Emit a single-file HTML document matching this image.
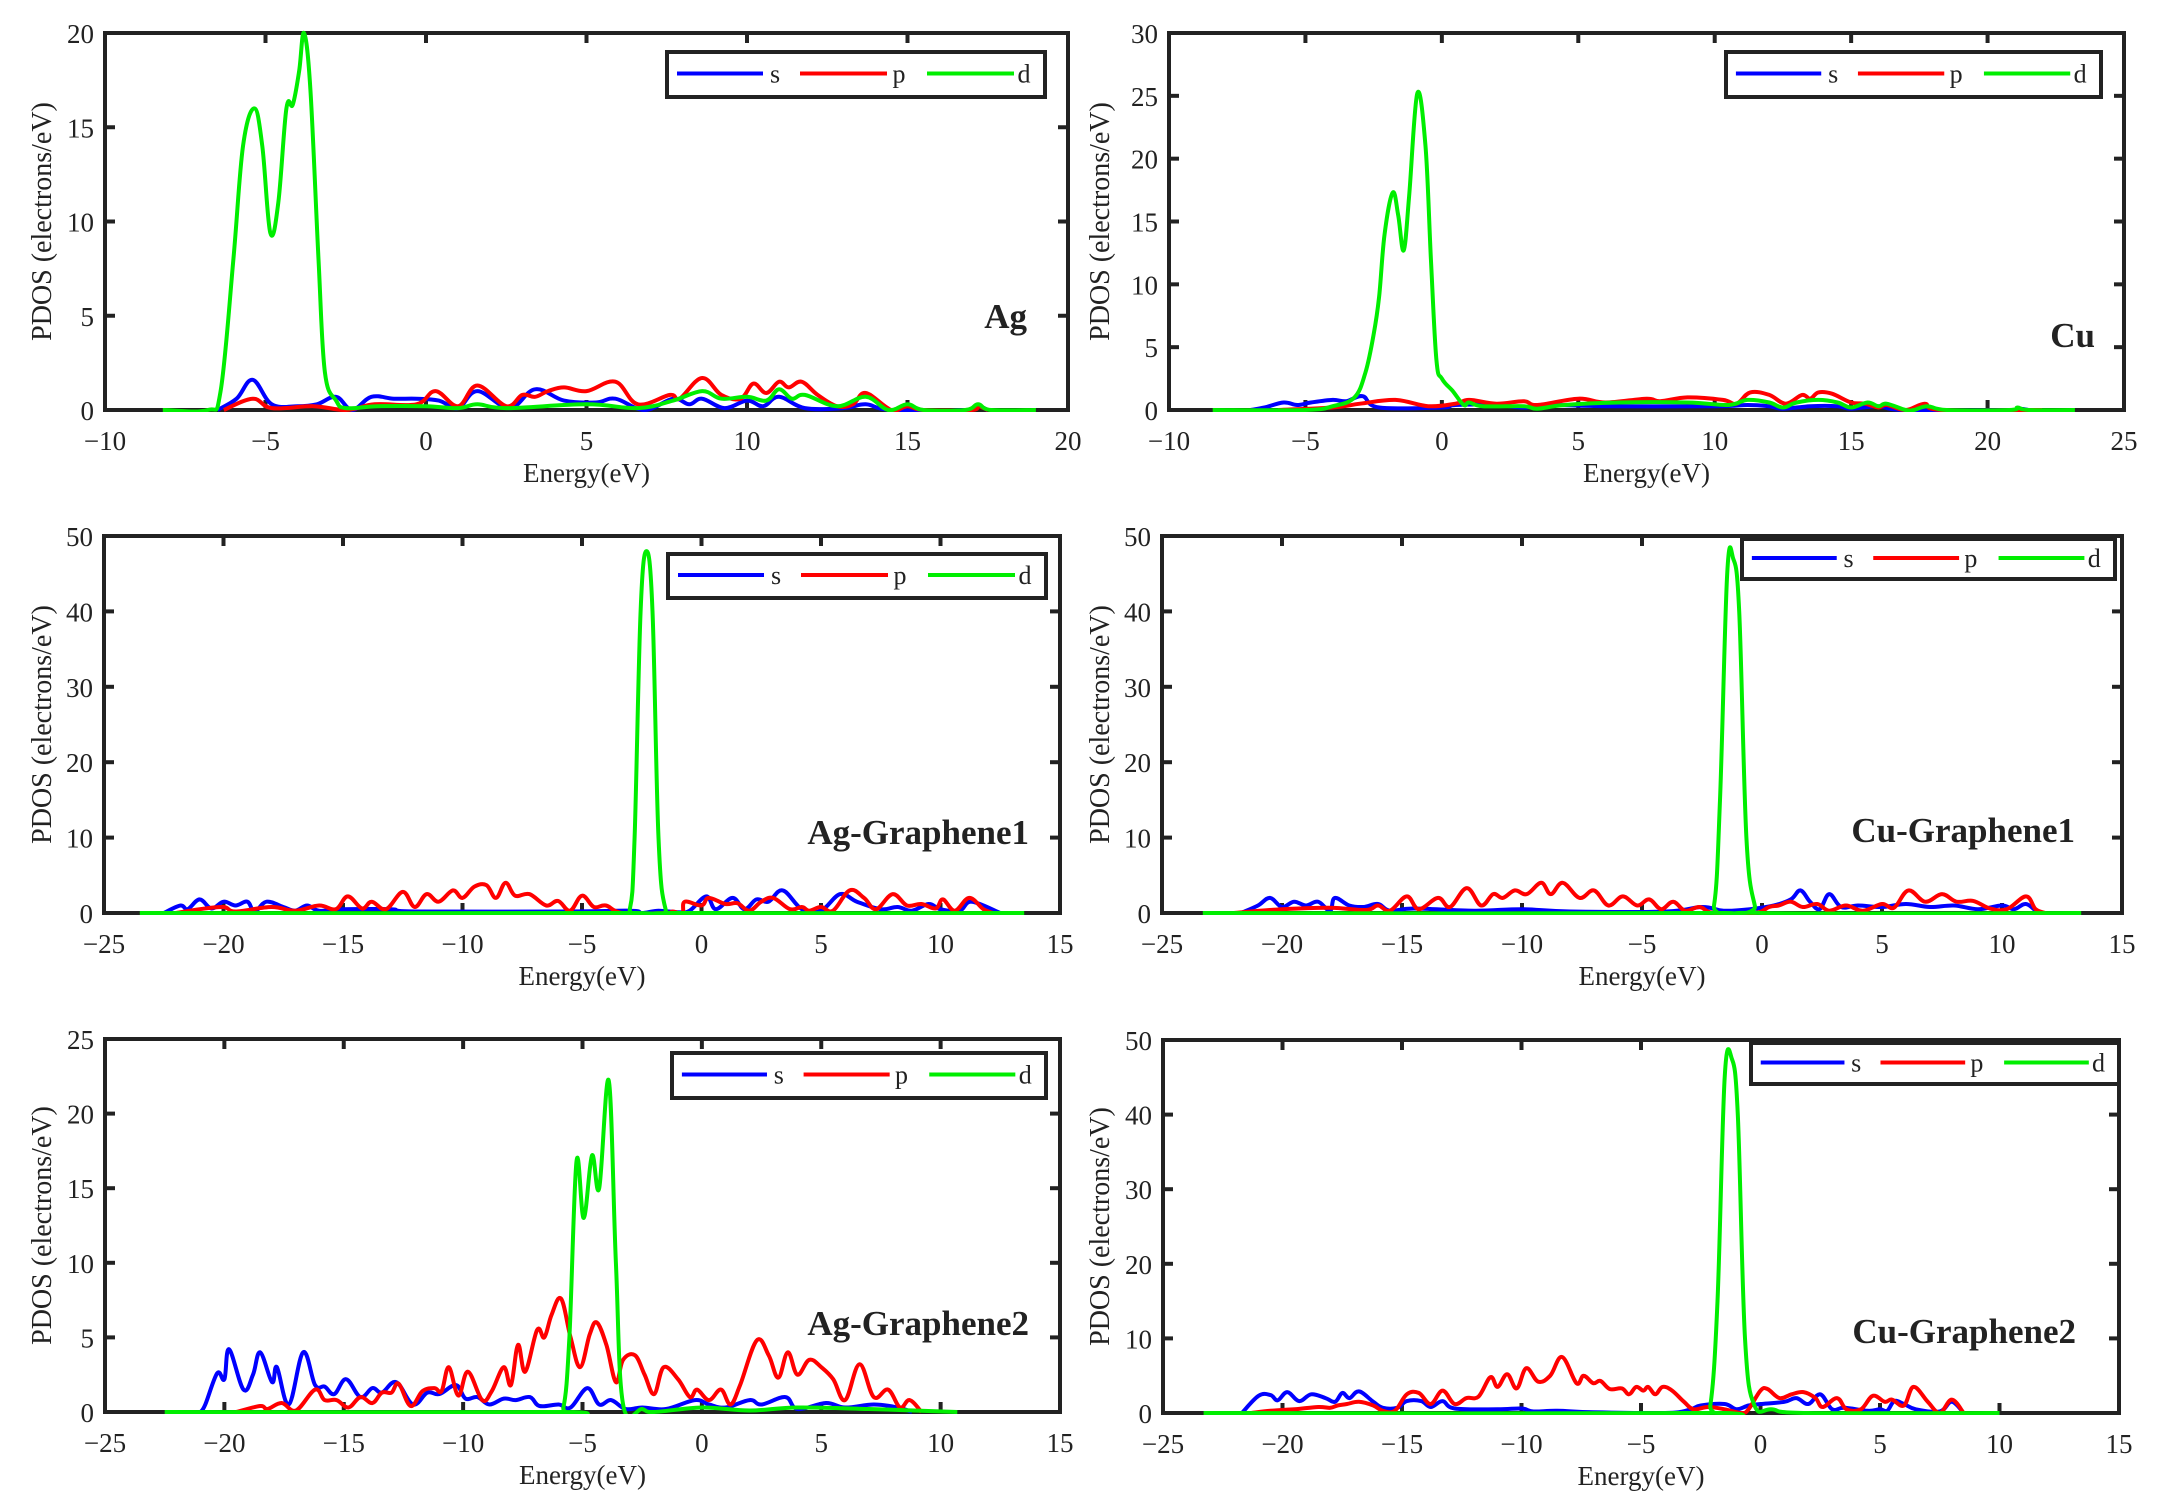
<!DOCTYPE html>
<html><head><meta charset="utf-8"><style>
html,body{margin:0;padding:0;background:#fff;}
svg{display:block;}
text{font-family:"Liberation Serif",serif;fill:#222;}
</style></head><body>
<svg id="s" width="2158" height="1511" xmlns="http://www.w3.org/2000/svg"></svg>
<script>
const P=[
{x0:105,x1:1068,y0:33,y1:410,xmin:-10,xmax:20,xs:5,ymax:20,ys:5,lab:"Ag",lx:1027,ly:328,leg:[667,52,378,45],
s:[[-6.5,0],[-5.9,0.6],[-5.4,1.6],[-4.8,0.3],[-4,0.2],[-3.4,0.3],[-2.8,0.7],[-2.3,0],[-1.7,0.7],[-1,0.6],[-0.3,0.6],[0.4,0.5],[1,0.1],[1.6,1],[2.6,0.1],[3.4,1.1],[4.3,0.5],[5.3,0.4],[5.9,0.6],[6.8,0],[7.7,0.6],[8.2,0.3],[8.6,0.6],[9.3,0.1],[10,0.5],[10.5,0.2],[11,0.7],[11.8,0.1],[13,0.1],[13.7,0.3],[14.5,0],[16.8,0],[17.2,0.2],[17.5,0]],
p:[[-6.3,0],[-5.4,0.6],[-4.8,0.1],[-3.5,0.2],[-2.5,0],[-1.6,0.3],[-0.3,0.3],[0.3,1],[1,0.2],[1.6,1.3],[2.5,0.2],[3,0.8],[3.4,0.7],[3.8,1],[4.3,1.2],[5,1],[5.9,1.5],[6.6,0.3],[7.6,0.8],[7.9,0.6],[8.6,1.7],[9.2,0.8],[9.8,0.6],[10.2,1.4],[10.6,0.9],[11,1.5],[11.3,1.2],[11.7,1.5],[12.2,0.8],[12.8,0.2],[13.3,0.3],[13.7,0.9],[14.5,0],[15,0.2],[15.5,0],[17,0],[17.2,0.2],[17.5,0]],
d:[[-8.2,0],[-6.8,0],[-6.4,1],[-6,8],[-5.7,14],[-5.35,16],[-5.1,14],[-4.85,9.4],[-4.6,11],[-4.35,16],[-4.15,16.2],[-3.95,18],[-3.8,20],[-3.6,17],[-3.35,8],[-3.15,2],[-2.8,0.5],[-2.5,0.1],[-1.5,0.2],[0,0.2],[1,0.1],[1.6,0.3],[2.5,0.1],[5,0.3],[6.6,0.1],[7.7,0.5],[8.6,1],[9.2,0.6],[10,0.7],[10.6,0.5],[11,1.1],[11.4,0.6],[11.8,0.8],[12.8,0.2],[13.7,0.7],[14.4,0],[15,0.3],[15.5,0],[16.8,0],[17.2,0.3],[17.6,0],[19,0]]},
{x0:1169,x1:2124,y0:33,y1:410,xmin:-10,xmax:25,xs:5,ymax:30,ys:5,lab:"Cu",lx:2095,ly:347,leg:[1726,52,375,45],
s:[[-7,0],[-6.5,0.2],[-5.8,0.6],[-5.3,0.4],[-4.8,0.6],[-4,0.8],[-3.5,0.7],[-2.9,1.1],[-2.3,0.2],[0,0.2],[0.5,0.4],[2,0.4],[3,0.2],[4,0.4],[6,0.3],[10,0.3],[11.2,0.4],[12,0.3],[12.5,0.1],[13.5,0.3],[14.5,0.3],[15,0.1],[16,0.3],[17,0],[21,0],[21.2,0.1],[21.5,0]],
p:[[-6,0],[-4,0.2],[-3,0.5],[-1.7,0.8],[-0.5,0.3],[0.5,0.5],[1,0.8],[2,0.5],[3,0.7],[3.5,0.4],[5,0.9],[6,0.6],[7.5,0.9],[8,0.7],[9,1],[10.3,0.8],[10.8,0.5],[11.3,1.4],[12,1.2],[12.6,0.5],[13.2,1.2],[13.5,0.9],[13.8,1.4],[14.3,1.3],[15,0.6],[15.5,0.5],[16,0.2],[16.3,0.4],[17,0],[17.7,0.5],[18.3,0],[22,0]],
d:[[-8.4,0],[-5,0],[-4,0.3],[-3.2,1],[-2.8,3],[-2.5,6],[-2.3,9],[-2.1,14],[-1.8,17.3],[-1.6,15.5],[-1.4,12.7],[-1.2,17],[-0.9,25.2],[-0.6,21],[-0.4,12],[-0.2,4],[0,2.5],[0.4,1.5],[0.8,0.4],[1,0.6],[1.5,0.3],[3,0.3],[3.5,0.1],[4.5,0.4],[6.5,0.6],[9,0.6],[10.5,0.4],[11.2,0.8],[12,0.6],[12.5,0.2],[13,0.6],[13.8,0.8],[14.5,0.6],[15,0.2],[15.6,0.6],[16,0.3],[16.3,0.5],[17,0],[17.3,0],[17.8,0.3],[18.5,0],[20.8,0],[21.1,0.2],[21.5,0],[23.2,0]]},
{x0:104,x1:1060,y0:536,y1:913,xmin:-25,xmax:15,xs:5,ymax:50,ys:10,lab:"Ag-Graphene1",lx:1029,ly:844,leg:[668,554,378,44],
s:[[-22.5,0],[-21.8,1],[-21.5,0.5],[-21,1.8],[-20.5,0.6],[-20,1.5],[-19.5,1],[-19,1.5],[-18.7,0.2],[-18.2,1.5],[-17.5,0.8],[-17,0.3],[-16.5,1],[-16,0.3],[-15,0.5],[-13,0.5],[-12,0.2],[-6,0.2],[-3,0.3],[-2.5,0],[-1.8,0.3],[-1,0.1],[-0.5,0.3],[0.2,2.2],[0.6,0.5],[1.3,2],[1.8,0.5],[2.3,1.8],[2.8,1.5],[3.4,3],[4.2,0.5],[5,0.3],[5.8,2.5],[6.5,1.5],[7.5,0.5],[8.2,0.8],[8.8,0.3],[9.5,1.2],[10,0.5],[10.8,0.3],[11.3,1.5],[12.5,0]],
p:[[-22,0],[-21,0.5],[-20,0.8],[-19.5,0.2],[-18,0.8],[-17,0.3],[-16,1],[-15.3,0.5],[-14.8,2.2],[-14.2,0.6],[-13.8,1.5],[-13.2,0.5],[-12.5,2.8],[-12,0.8],[-11.5,2.5],[-11,1.5],[-10.4,3],[-10,2],[-9.5,3.5],[-9,3.7],[-8.6,2],[-8.2,4],[-7.8,2.3],[-7.2,2.5],[-6.5,1],[-6,1.6],[-5.5,0.3],[-5,2.3],[-4.5,0.8],[-4,1],[-3.3,0],[-1.5,0],[-1.2,0.2],[-0.8,0],[-0.7,1.5],[0,1],[0.3,2],[1,1.2],[1.5,1.3],[2,0.3],[2.5,1.5],[3,2],[3.7,0.5],[4.2,0.8],[4.5,0.3],[5,0.8],[5.5,0.3],[6.2,3],[6.8,2],[7.3,0.5],[8,2.5],[8.6,1],[9.2,1.2],[9.8,0.6],[10.1,1.8],[10.6,0.3],[11.2,2],[11.8,0.5],[12.2,0]],
d:[[-23.5,0],[-3.5,0],[-3.0,0.5],[-2.8,10],[-2.55,40],[-2.3,48],[-2.05,40],[-1.8,10],[-1.5,0.5],[-1,0],[13.5,0]]},
{x0:1162,x1:2122,y0:536,y1:913,xmin:-25,xmax:15,xs:5,ymax:50,ys:10,lab:"Cu-Graphene1",lx:2075,ly:842,leg:[1742,539,373,40],
s:[[-21.7,0],[-21,1],[-20.5,2],[-20,0.8],[-19.5,1.5],[-19,1],[-18.5,1.5],[-18,0.3],[-17.8,2],[-17.2,1],[-16.6,0.8],[-16,1.2],[-15.5,0.3],[-14.5,0.6],[-12,0.3],[-10,0.5],[-8,0.2],[-4,0.2],[-2.5,0.8],[-1.6,0.3],[-0.5,0.5],[0.5,1],[1.2,1.8],[1.6,3],[2,1.5],[2.4,0.5],[2.8,2.5],[3.3,0.8],[4,1],[5,0.8],[6,1.2],[7,0.8],[8,1],[9,0.5],[10,1],[10.5,0.5],[11,1.2],[11.5,0]],
p:[[-22,0],[-20,0.5],[-18,0.7],[-16.5,0.4],[-16,1],[-15.5,0.3],[-14.8,2.2],[-14.3,0.5],[-13.5,2],[-13,0.8],[-12.3,3.3],[-11.7,1],[-11.2,2.5],[-10.8,2],[-10.3,3],[-9.8,2.5],[-9.2,4],[-8.8,2.5],[-8.3,4],[-7.6,2],[-7,3],[-6.4,1],[-5.8,2.2],[-5.2,1],[-4.7,1.8],[-4.2,0.5],[-3.7,1.5],[-3.2,0.3],[-2.6,0.8],[-2,0],[-0.3,0],[0.3,0.8],[0.7,1],[1.2,1.5],[1.7,0.8],[2.3,1.2],[2.8,0.3],[3.5,1],[4.2,0.3],[5,1.2],[5.5,0.7],[6.1,3],[6.8,1.5],[7.5,2.5],[8.1,1.5],[8.8,1.6],[9.5,0.6],[10.2,0.5],[11,2.2],[11.4,0.5],[11.8,0]],
d:[[-23.3,0],[-2.5,0],[-2.0,1],[-1.75,15],[-1.45,45],[-1.2,47],[-0.95,40],[-0.65,10],[-0.3,1],[0,0],[13.3,0]]},
{x0:105,x1:1060,y0:1039,y1:1412,xmin:-25,xmax:15,xs:5,ymax:25,ys:5,lab:"Ag-Graphene2",lx:1029,ly:1335,leg:[672,1053,374,45],
s:[[-21,0],[-20.8,0.5],[-20.3,2.6],[-20,2.2],[-19.8,4.2],[-19.2,1.5],[-18.8,2.5],[-18.5,4],[-18,2],[-17.8,3],[-17.3,0.5],[-16.7,4],[-16.2,1.8],[-15.8,1.7],[-15.4,1.2],[-14.9,2.2],[-14.3,1],[-13.8,1.6],[-13.4,1.3],[-12.8,2],[-12.1,0.5],[-11.5,1.3],[-11,1.2],[-10.3,1.8],[-9.9,0.9],[-9.4,1],[-8.9,0.5],[-8.3,0.9],[-7.8,0.8],[-7.2,1],[-6.8,0.4],[-6,0.5],[-5.5,0.3],[-4.8,1.6],[-4.3,0.5],[-3.8,0.8],[-3.2,0.2],[-2.5,0.3],[-1.5,0.2],[-0.3,0.8],[0.3,0.5],[1,0.3],[2,0.8],[2.5,0.5],[3.5,1],[4,0.2],[5.2,0.6],[6,0.3],[7.2,0.5],[8.2,0.3],[8.8,0]],
p:[[-19.5,0],[-18.5,0.4],[-18.2,0.2],[-17.6,0.6],[-17,0.1],[-16.2,1.5],[-15.8,0.8],[-15.3,0.8],[-14.8,0.3],[-14.3,1],[-13.8,0.6],[-13.4,1.3],[-13,1.3],[-12.7,1.9],[-12.2,0.4],[-11.7,1.4],[-11.2,1.6],[-10.9,1.4],[-10.6,3],[-10.2,1.1],[-9.8,2.7],[-9.2,0.8],[-8.8,1.4],[-8.3,3],[-8,1.8],[-7.7,4.5],[-7.4,2.7],[-6.9,5.5],[-6.6,5],[-6.3,6.5],[-5.9,7.6],[-5.5,5],[-5.1,3],[-4.7,5.2],[-4.4,6],[-4,4.5],[-3.6,2],[-3.3,3.5],[-2.8,3.8],[-2.4,2.5],[-2,1.2],[-1.6,3],[-1,2.2],[-0.5,1],[-0.2,1.5],[0.3,0.8],[0.8,1.5],[1.2,0.5],[1.6,1.8],[2.3,4.8],[2.8,3.8],[3.2,2.3],[3.6,4],[4,2.5],[4.5,3.5],[5,3],[5.5,2.2],[6,0.8],[6.6,3.2],[7.2,1],[7.8,1.5],[8.3,0.3],[8.7,0.8],[9.2,0]],
d:[[-22.5,0],[-6.2,0],[-5.8,0.3],[-5.55,5],[-5.25,16.8],[-4.95,13],[-4.6,17.2],[-4.3,15],[-3.9,22.2],[-3.6,10],[-3.3,0.5],[-2.5,0.2],[-2,0],[0,0.3],[2,0.1],[4,0.3],[7,0.2],[10.7,0]]},
{x0:1163,x1:2119,y0:1040,y1:1413,xmin:-25,xmax:15,xs:5,ymax:50,ys:10,lab:"Cu-Graphene2",lx:2076,ly:1343,leg:[1751,1043,368,41],
s:[[-21.7,0],[-21,2.3],[-20.5,2.4],[-20.2,1.7],[-19.8,2.8],[-19.3,1.6],[-18.8,2.5],[-18.2,2],[-17.8,1.5],[-17.5,2.7],[-17.2,2],[-16.8,2.9],[-16.2,1.5],[-15.8,0.7],[-15.2,0.7],[-14.8,1.6],[-14.2,1.6],[-13.8,0.8],[-13.3,1.6],[-12.8,0.6],[-11,0.5],[-10,0.6],[-9.5,0.2],[-8.5,0.3],[-7,0.1],[-4,0],[-3,0.4],[-2.5,1],[-1.5,1.2],[-1,0.5],[-0.5,1],[0,1.2],[1,1.5],[1.5,2],[2,1.2],[2.5,2.5],[3,0.5],[3.5,0.7],[4.5,0.3],[5,0.5],[5.3,0.3],[5.6,1.6],[6,1.2],[6.5,0.5],[7.5,0.2],[8,1.5],[8.5,0]],
p:[[-21.3,0],[-20.5,0.3],[-19.5,0.5],[-18.5,0.8],[-18,0.7],[-17.7,1],[-17.3,1.2],[-16.8,1.5],[-16.2,1],[-15.8,0.3],[-15.3,0.3],[-14.8,2.5],[-14.3,2.7],[-13.8,1.2],[-13.3,3],[-12.8,1.2],[-12.3,2],[-11.8,2.2],[-11.3,4.8],[-11,3.5],[-10.6,5.2],[-10.2,3.3],[-9.8,6],[-9.3,4.2],[-8.8,5],[-8.3,7.5],[-7.7,4],[-7.4,5],[-7,4],[-6.7,4.3],[-6.3,3.2],[-5.8,3.3],[-5.5,2.5],[-5.2,3.5],[-4.9,3],[-4.7,3.5],[-4.4,2.5],[-4.1,3.5],[-3.7,3],[-3.2,1.5],[-2.8,0.5],[-2.2,0.8],[-1.5,0.5],[-0.8,0],[-0.5,0.5],[0,3],[0.3,3.2],[0.8,2],[1.3,2.5],[1.8,2.8],[2.3,2],[2.6,0.8],[3.2,2],[3.6,0.5],[4.2,0.5],[4.7,2.3],[5.2,1.5],[5.5,1.8],[6,1],[6.4,3.5],[7,1.5],[7.5,0],[8,1.8],[8.5,0]],
d:[[-23.3,0],[-2.5,0],[-2.1,1],[-1.8,15],[-1.5,45],[-1.2,47.5],[-0.95,40],[-0.65,10],[-0.25,1],[0.5,0.5],[2,0],[10,0]]}
];
const NS="http://www.w3.org/2000/svg";
const svg=document.getElementById("s");
function el(t,a,txt){const e=document.createElementNS(NS,t);for(const k in a)e.setAttribute(k,a[k]);if(txt!==undefined)e.textContent=txt;svg.appendChild(e);return e;}
function fmt(v){return v<0?"\u2212"+(-v):""+v;}
function smooth(pts){
  let d="M"+pts[0][0].toFixed(1)+","+pts[0][1].toFixed(1);
  for(let i=0;i<pts.length-1;i++){
    const p0=pts[i-1]||pts[i],p1=pts[i],p2=pts[i+1],p3=pts[i+2]||p2;
    const t=0.18;
    const c1=[p1[0]+(p2[0]-p0[0])*t,p1[1]+(p2[1]-p0[1])*t];
    const c2=[p2[0]-(p3[0]-p1[0])*t,p2[1]-(p3[1]-p1[1])*t];
    d+=" C"+c1[0].toFixed(1)+","+c1[1].toFixed(1)+" "+c2[0].toFixed(1)+","+c2[1].toFixed(1)+" "+p2[0].toFixed(1)+","+p2[1].toFixed(1);
  }
  return d;
}
P.forEach((p,i)=>{
  const X=v=>p.x0+(v-p.xmin)/(p.xmax-p.xmin)*(p.x1-p.x0);
  const Y=v=>p.y1-v/p.ymax*(p.y1-p.y0);
  const ax="#222";
  for(let v=p.xmin;v<=p.xmax+1e-9;v+=p.xs){
    const x=X(v);
    el("line",{x1:x,y1:p.y1,x2:x,y2:p.y1-10,stroke:ax,"stroke-width":4});
    el("line",{x1:x,y1:p.y0,x2:x,y2:p.y0+10,stroke:ax,"stroke-width":4});
    el("text",{x:x,y:p.y1+40,"text-anchor":"middle","font-size":27},fmt(v));
  }
  for(let v=0;v<=p.ymax+1e-9;v+=p.ys){
    const y=Y(v);
    el("line",{x1:p.x0,y1:y,x2:p.x0+10,y2:y,stroke:ax,"stroke-width":4});
    el("line",{x1:p.x1,y1:y,x2:p.x1-10,y2:y,stroke:ax,"stroke-width":4});
    el("text",{x:p.x0-11,y:y+10,"text-anchor":"end","font-size":27},fmt(v));
  }
  el("rect",{x:p.x0,y:p.y0,width:p.x1-p.x0,height:p.y1-p.y0,fill:"none",stroke:ax,"stroke-width":4});
  el("text",{x:(p.x0+p.x1)/2,y:p.y1+72,"text-anchor":"middle","font-size":27},"Energy(eV)");
  const yc=(p.y0+p.y1)/2, xl=(i%2==0)?42:1100;
  el("text",{x:xl,y:yc,"text-anchor":"middle","font-size":28,transform:`rotate(-90 ${xl} ${yc})`,dy:9},"PDOS (electrons/eV)");
  const cid="c"+i;
  const cp=el("clipPath",{id:cid});
  const r=document.createElementNS(NS,"rect");
  r.setAttribute("x",p.x0);r.setAttribute("y",p.y0-4);r.setAttribute("width",p.x1-p.x0);r.setAttribute("height",p.y1-p.y0+6);cp.appendChild(r);
  [["s","#0000ff"],["p","#ff0000"],["d","#00ee00"]].forEach(([k,c])=>{
    const pts=p[k].map(q=>[X(q[0]),Y(q[1])]);
    el("path",{d:smooth(pts),fill:"none",stroke:c,"stroke-width":4,"stroke-linejoin":"round","clip-path":`url(#${cid})`});
  });
  const [L,T,W,H]=p.leg;
  el("rect",{x:L,y:T,width:W,height:H,fill:"#fff",stroke:ax,"stroke-width":4});
  const cy=T+H/2-1;
  const items=[["s","#0000ff",10,96,108],["p","#ff0000",133,220,232],["d","#00ee00",260,347,357]];
  const sc=W/378;
  items.forEach(([t,c,a,b,tx])=>{
    el("line",{x1:L+a*sc,y1:cy,x2:L+b*sc,y2:cy,stroke:c,"stroke-width":4});
    el("text",{x:L+tx*sc,y:cy+9,"text-anchor":"middle","font-size":26},t);
  });
  el("text",{x:p.lx,y:p.ly,"text-anchor":"end","font-size":35,"font-weight":"bold",fill:"#000"},p.lab);
});
</script>
</body></html>
